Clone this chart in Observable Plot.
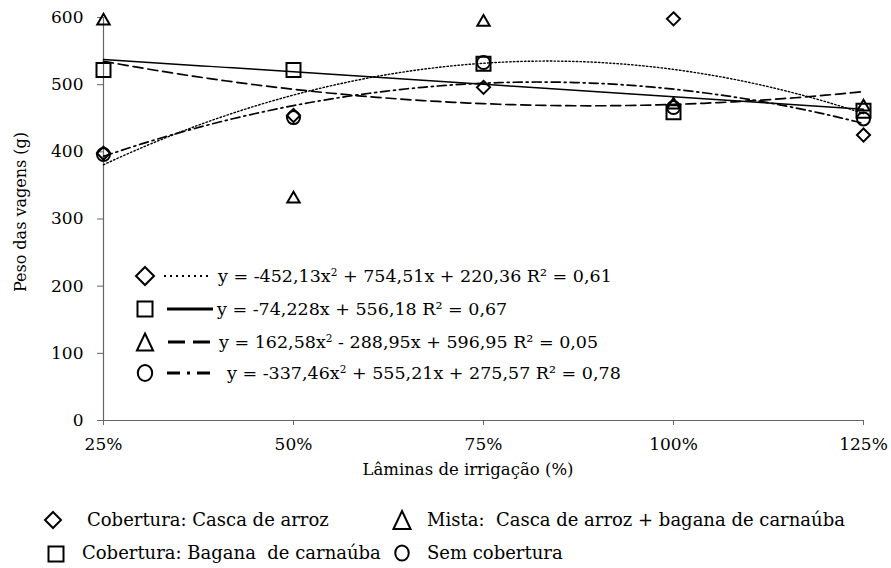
<!DOCTYPE html>
<html><head><meta charset="utf-8">
<script src="https://cdn.jsdelivr.net/npm/d3@7"></script>
<script src="https://cdn.jsdelivr.net/npm/@observablehq/plot@0.6"></script>
<style>
body{margin:0;background:#fff;}
#wrap{position:relative;width:891px;height:568px;font-family:"DejaVu Serif",serif;color:#000;overflow:hidden;background:#fff;}
.abs{position:absolute;white-space:nowrap;line-height:20px;}
sup{font-size:0.6em;line-height:0;vertical-align:0.6em;}
#wrap svg g[aria-label="y-axis tick label"], #wrap svg g[aria-label="x-axis tick label"]{font-size:17px !important;}
#wrap svg g[aria-label="y-axis tick label"] text, #wrap svg g[aria-label="x-axis tick label"] text{font-size:17px !important;}
</style></head><body>
<div id="wrap"></div>
<script>
// ---- data ----
const levels = [0.25, 0.5, 0.75, 1.0, 1.25];
const levelLabels = ["25%", "50%", "75%", "100%", "125%"];
const yTicks = [0, 100, 200, 300, 400, 500, 600];
const riceHusk = [398, 454, 496, 598, 425];   // ◇ Cobertura: Casca de arroz
const carnauba = [522, 522, 531, 459, 461];   // □ Cobertura: Bagana de carnaúba
const mixed    = [595, 330, 593, 470, 467];   // Δ Mista
const noCover  = [396, 451, 533, 466, 449];   // ○ Sem cobertura
// trend equations printed in the chart: y = a x² + b x + c
const coefRice     = [-452.13, 754.51, 220.36];
const coefCarnauba = [0, -74.228, 556.18];
const coefMixed    = [162.58, -288.95, 596.95];
const coefNoCover  = [-337.46, 555.21, 275.57];
const eqTexts = [
  "y = -452,13x<sup>2</sup> + 754,51x + 220,36 R² = 0,61",
  "y = -74,228x + 556,18 R² = 0,67",
  "y = 162,58x<sup>2</sup> - 288,95x + 596,95 R² = 0,05",
  "y = -337,46x<sup>2</sup> + 555,21x + 275,57 R² = 0,78"
];
const seriesNames = [
  "Cobertura: Casca de arroz",
  "Cobertura: Bagana&nbsp; de carnaúba",
  "Mista:&nbsp; Casca de arroz + bagana de carnaúba",
  "Sem cobertura"
];
const xTitle = "Lâminas de irrigação (%)";
const yTitle = "Peso das vagens (g)";

// ---- build tables ----
const pts = vals => levels.map((x, i) => ({x, y: vals[i]}));
const curve = c => d3.range(0.25, 1.2501, 0.01).map(x => ({x, y: c[0]*x*x + c[1]*x + c[2]}));

const styles = [
  {dash: "1.5,2.2", width: 1.4, symbol: "diamond2", r: 5.9},
  {dash: null, width: 1.5, symbol: "square", r: 7.9},
  {dash: "10,5", width: 1.7, symbol: "triangle", r: 4.6},
  {dash: "9,4,2,4", width: 1.7, symbol: "circle", r: 6.5}
];
const seriesVals = [riceHusk, carnauba, mixed, noCover];
const seriesCoef = [coefRice, coefCarnauba, coefMixed, coefNoCover];

const marks = [
  Plot.ruleY([0], {stroke: "#666", strokeWidth: 1.2}),
  Plot.ruleX([levels[0]], {y1: 0, y2: 600, stroke: "#666", strokeWidth: 1.2}),
  Plot.axisY({ticks: yTicks, tickSize: 6, tickPadding: 14, stroke: "#666", label: null, fontSize: 17}),
  Plot.axisX({ticks: levels, tickSize: 5, tickPadding: 12, stroke: "#666", label: null, fontSize: 17,
              tickFormat: d => levelLabels[levels.indexOf(d)]})
];
seriesCoef.forEach((c, i) => {
  marks.push(Plot.line(curve(c), {x: "x", y: "y", stroke: "black", strokeWidth: styles[i].width,
    strokeDasharray: styles[i].dash || undefined}));
});
seriesVals.forEach((v, i) => {
  marks.push(Plot.dot(pts(v), {x: "x", y: "y", symbol: styles[i].symbol, r: styles[i].r,
    stroke: "black", strokeWidth: 2, fill: "none"}));
});

const chart = Plot.plot({
  width: 891, height: 490,
  marginLeft: 103, marginRight: 28, marginTop: 17, marginBottom: 70,
  x: {domain: [0.25, 1.25]},
  y: {domain: [0, 600]},
  style: {fontFamily: "'DejaVu Serif', serif", fontSize: "17px", color: "black", background: "white", overflow: "visible"},
  marks
});
const wrap = document.getElementById("wrap");
chart.style.position = "absolute"; chart.style.left = "0"; chart.style.top = "0";
wrap.appendChild(chart);

// ---- overlay: titles and legends ----
function div(html, left, top, size, extra) {
  const d = document.createElement("div");
  d.className = "abs"; d.innerHTML = html;
  d.style.left = left + "px"; d.style.top = (top - 10) + "px"; d.style.fontSize = size + "px";
  if (extra) Object.assign(d.style, extra);
  wrap.appendChild(d); return d;
}
div(xTitle, 468, 470, 16.5, {transform: "translateX(-50%)"});
div(yTitle, 21, 212, 16, {transform: "translate(-50%,0) rotate(-90deg)", transformOrigin: "50% 50%"});

const ov = d3.select(wrap).append("svg").attr("width", 891).attr("height", 568)
  .style("position", "absolute").style("left", 0).style("top", 0).style("pointer-events", "none");
function sym(kind, cx, cy, s) {
  const g = ov.append("g").attr("fill", "none").attr("stroke", "black").attr("stroke-width", 2);
  if (kind === 0) g.append("path").attr("d", `M${cx},${cy-s}L${cx+s},${cy}L${cx},${cy+s}L${cx-s},${cy}Z`);
  if (kind === 1) g.append("rect").attr("x", cx-s).attr("y", cy-s).attr("width", 2*s).attr("height", 2*s);
  if (kind === 2) g.append("path").attr("d", `M${cx},${cy-s}L${cx+s*0.95},${cy+s}L${cx-s*0.95},${cy+s}Z`);
  if (kind === 3) g.append("ellipse").attr("cx", cx).attr("cy", cy).attr("rx", s*0.9).attr("ry", s);
}
// inner legend
const rowsY = [276, 309, 342, 373];
const sampleX = [[164, 208], [167, 213], [168, 211], [167, 213]];
const sampleDash = ["2,4", null, "17,8", "13,7,3,7"];
const textX = [218, 217, 219, 227];
const symSize = [9, 7.5, 8.5, 8];
rowsY.forEach((y, i) => {
  sym(i, 145, y, symSize[i]);
  const l = ov.append("line").attr("x1", sampleX[i][0]).attr("x2", sampleX[i][1]).attr("y1", y).attr("y2", y)
    .attr("stroke", "black").attr("stroke-width", i === 0 ? 2 : 3);
  if (sampleDash[i]) l.attr("stroke-dasharray", sampleDash[i]);
  div(eqTexts[i], textX[i], y, 17.5);
});
// bottom legend
const botRows = [
  {k: 0, sx: 53, sy: 520, s: 8, tx: 87, ty: 520},
  {k: 2, sx: 402, sy: 520, s: 9, tx: 427, ty: 520},
  {k: 1, sx: 56, sy: 554, s: 7.5, tx: 82, ty: 553},
  {k: 3, sx: 402, sy: 553, s: 7.5, tx: 427, ty: 553}
];
botRows.forEach(b => {
  sym(b.k, b.sx, b.sy, b.s);
  div(seriesNames[b.k], b.tx, b.ty, 18);
});
</script>
</body></html>
